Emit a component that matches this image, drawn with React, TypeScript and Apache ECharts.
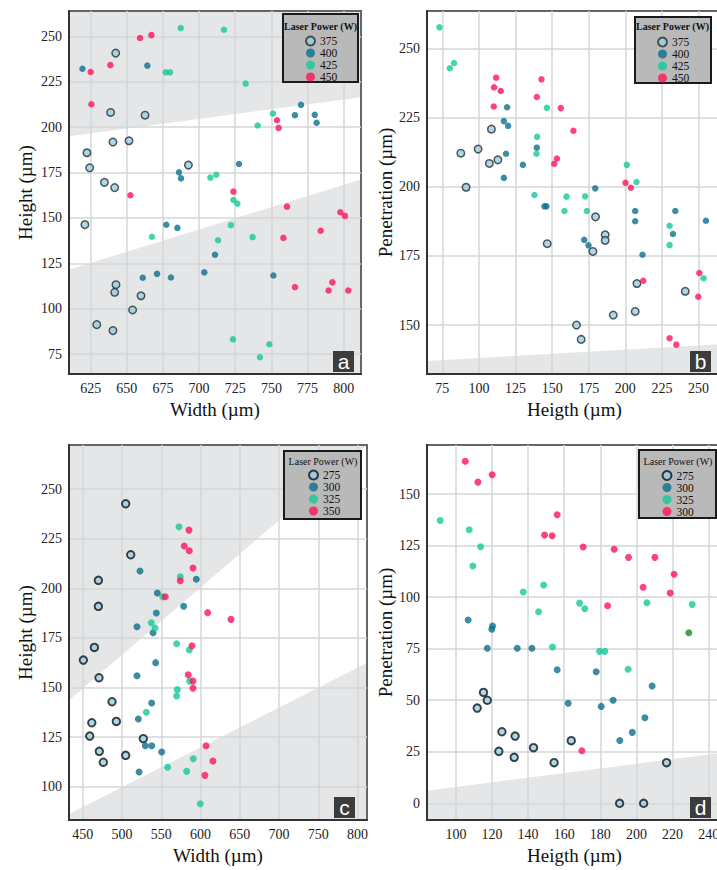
import React, { useEffect, useRef } from "react";
import * as echarts from "echarts";

// ---------- data ----------
// Panel a : Width (x) vs Height (y), laser power 375/400/425/450 W
const aLabels = ["375", "400", "425", "450"];
const a375 = [[642.3,240.8],[638.8,208.1],[662.6,206.6],[640.4,191.8],[651.5,192.5],[622.4,185.9],[624.3,177.6],[692.6,179.1],[634.5,169.6],[641.6,166.7],[621,146.3],[642.5,113.2],[641.6,109],[659.8,107.1],[654,99.3],[629.2,91.2],[640.4,87.9]];
const a400 = [[619.3,232.2],[664.2,233.9],[770.5,212.3],[766.3,206.6],[780,206.8],[781.3,202.4],[727.6,179.7],[686.1,175.1],[687.5,171.8],[677.3,146.2],[685,144.5],[711,129.7],[703.6,120],[670.9,119.2],[661,117],[680.5,117.2],[751.4,118.3]];
const a425 = [[687.3,254.6],[717.2,253.7],[676.9,230.2],[679.9,230.2],[732.2,224],[751.1,207.5],[740.5,200.9],[707.8,172.2],[711.9,173.8],[723.7,159.9],[726.5,157.9],[667.4,139.6],[713.1,137.7],[722,146],[737,139.4],[723.4,83.1],[748.6,80.4],[742.1,73.2]];
const a450 = [[659.1,249.1],[667,250.7],[638.6,234.2],[625,230.4],[625.5,212.6],[753.9,203.8],[755,199.6],[723.7,164.5],[652.5,162.5],[760.8,156.2],[797.7,153.1],[800.9,151.1],[784.1,142.9],[758.3,139],[766.3,111.9],[792.2,114.5],[789.6,110],[803.2,110]];
const aXTicks = [625, 650, 675, 700, 725, 750, 775, 800];
const aYTicks = [75, 100, 125, 150, 175, 200, 225, 250];
const aXRange = [610, 812];
const aYRange = [64, 264];
const aUpperEdge = [[610, 195], [812, 216.5]];
const aLowerEdge = [[610, 121.5], [812, 171.2]];

// Panel b : Heigth (x) vs Penetration (y)
const bLabels = ["375", "400", "425", "450"];
const b375 = [[87.6,212.1],[91.2,199.8],[99.4,213.6],[108.5,220.8],[107.1,208.4],[112.9,209.7],[179.6,189.1],[146.6,179.4],[186.2,182.6],[186.2,180.6],[177.8,176.6],[207.9,165],[240.9,162.2],[191.7,153.6],[206.7,154.9],[166.6,150],[169.8,144.8]];
const b400 = [[119.2,228.7],[117,223.7],[119.9,222],[118.5,211.9],[117,203.2],[130,207.9],[139.5,214.1],[179.4,199.4],[144.7,192.9],[146.1,192.9],[206.7,191.2],[234.1,191.2],[255,187.7],[206.7,187.5],[232.5,182.9],[171.9,180.8],[174.8,178.8],[211.7,175.4]];
const b425 = [[73,257.6],[80.1,242.8],[83,244.7],[146.4,228.5],[139.7,218],[139.3,211.9],[201,207.9],[207.6,201.7],[137.9,197],[159.8,196.4],[172.5,196.5],[158.4,191.2],[173.7,191.2],[230.2,185.9],[230.2,178.9],[253.4,166.9]];
const b450 = [[111.7,239.4],[110.3,235.9],[114.9,234.6],[110.1,229],[142.7,238.8],[139.5,232.4],[155.9,228.4],[164.5,220.2],[153.2,210.2],[151.4,208.3],[200.1,201.4],[203.8,199.6],[212.2,166],[250.5,168.8],[249.8,160.2],[230.2,145.2],[234.8,142.9]];
const bXTicks = [75, 100, 125, 150, 175, 200, 225, 250];
const bYTicks = [150, 175, 200, 225, 250];
const bXRange = [64.5, 266];
const bYRange = [132.3, 263.5];
const bLowerEdge = [[64.5, 137], [266, 143.1]];

// Panel c : Width (x) vs Height (y), laser power 275/300/325/350 W
const cLabels = ["275", "300", "325", "350"];
const c275 = [[504.7,242.6],[511.1,216.9],[469.9,204],[469.9,190.9],[464.8,170.2],[450.8,163.8],[470.7,154.9],[487.3,142.8],[492.8,132.9],[461.5,132.2],[458.9,125.5],[527.1,124.2],[471.1,117.8],[504.7,115.8],[476.2,112.3]];
const c300 = [[522.9,208.7],[545,197.6],[594.6,204.5],[578.5,190.9],[543.7,187.5],[519.1,180.6],[539.5,177.6],[542.9,162.5],[519.1,155.9],[537.8,142.2],[520.8,134.1],[529.7,120.6],[537.8,120.6],[550.5,117.5],[521.7,107.4]];
const c325 = [[572.6,231],[574.2,205.8],[551.8,195.7],[537.3,182.6],[542,180],[569.6,172],[585.7,168.9],[586.2,153.2],[570.4,148.9],[569.6,145.7],[531,137.5],[590.8,114.1],[558.2,109.8],[582.3,107.7],[599.7,91.4]];
const c350 = [[585.3,229.3],[579.3,221.3],[585.7,218.9],[590.4,210.2],[574.2,203.8],[555.1,195.7],[609.1,187.7],[638.8,184.3],[589.1,171],[584.4,156.4],[590.4,153.2],[590.4,149.6],[607,120.6],[615.8,112.9],[605.6,105.7]];
const cXTicks = [450, 500, 550, 600, 650, 700, 750, 800];
const cYTicks = [100, 125, 150, 175, 200, 225, 250];
const cXRange = [432.5, 812];
const cYRange = [83.2, 272.2];
const cUpperEdge = [[432.5, 143.5], [812, 272.2]];
const cLowerEdge = [[432.5, 86.2], [812, 162.3]];

// Panel d : Heigth (x) vs Penetration (y)
const dLabels = ["275", "300", "325", "300"];
const d275 = [[115.3,53.8],[117.4,50],[111.8,46.2],[125.5,34.7],[132.8,32.6],[123.8,25.2],[132.3,22.3],[143,27],[163.9,30.4],[154.4,19.7],[216.7,19.7],[190.7,0],[204,0]];
const d300 = [[106.8,88.9],[120.3,86],[119.9,84.4],[117.4,75.2],[134,75.2],[142.1,75.2],[156.1,64.8],[177.7,63.8],[162.2,48.5],[180.5,47],[187.1,50],[208.7,56.9],[204.7,41.5],[197.7,34.4],[190.8,30.5]];
const d325 = [[91.3,137.2],[107.4,132.7],[113.7,124.4],[109.4,115.1],[137.3,102.5],[148.6,105.9],[145.8,92.9],[168.5,97.1],[171.4,94.4],[205.8,97.3],[230.9,96.5],[153.5,75.8],[179.6,73.7],[182.5,73.7],[195.4,65]];
const d350 = [[105.2,165.9],[112.2,155.8],[120.1,159.4],[156.1,140],[149.1,130.1],[153.3,129.8],[170.5,124.3],[187.7,123.2],[195.6,119.3],[210.2,119.3],[220.9,111.1],[203.7,104.8],[218.7,102],[184,95.8],[169.8,25.5]];
const dExtra = [[229, 82.7]];
const dXTicks = [100, 120, 140, 160, 180, 200, 220, 240];
const dYTicks = [0, 25, 50, 75, 100, 125, 150];
const dXRange = [84, 247.4];
const dYRange = [-8.1, 173.8];
const dLowerEdge = [[84, 6.1], [247.4, 24.5]];

// ---------- styles ----------
const FONT = "'Liberation Serif', 'Times New Roman', serif";
const SHADE = "#e5e6e7";
const LIGHT = "#92cfe8";
const TEAL = "#0b6f8d";
const GREEN = "#14c99a";
const RED = "#fd1457";

const grids = [
  { left: 69, top: 11, width: 292, height: 363 },
  { left: 427, top: 11, width: 295, height: 363 },
  { left: 69, top: 445, width: 298, height: 375 },
  { left: 427, top: 445, width: 295, height: 375 },
];

function xAxis(gi: number, range: number[], ticks: number[], name: string) {
  return {
    type: "value", gridIndex: gi, min: range[0], max: range[1], name,
    nameLocation: "middle", nameGap: 26,
    nameTextStyle: { fontFamily: FONT, fontSize: 19, color: "#111" },
    axisLine: { show: true, onZero: false, lineStyle: { color: "#333", width: 2 } },
    axisTick: { show: false, customValues: ticks },
    axisLabel: { customValues: ticks, fontFamily: FONT, fontSize: 14, color: "#222", margin: 7 },
    splitLine: { show: true, lineStyle: { color: "#d4d6d8", width: 1.5 } },
  };
}
function yAxis(gi: number, range: number[], ticks: number[], name: string, gap: number) {
  return {
    type: "value", gridIndex: gi, min: range[0], max: range[1], name,
    nameLocation: "middle", nameGap: gap,
    nameTextStyle: { fontFamily: FONT, fontSize: 19, color: "#111" },
    axisLine: { show: true, onZero: false, lineStyle: { color: "#333", width: 2 } },
    axisTick: { show: false, customValues: ticks },
    axisLabel: { customValues: ticks, fontFamily: FONT, fontSize: 14, color: "#222", margin: 7 },
    splitLine: { show: true, lineStyle: { color: "#d4d6d8", width: 1.5 } },
  };
}

function shadeSeries(gi: number, polys: number[][][]) {
  return {
    type: "custom", xAxisIndex: gi, yAxisIndex: gi, z: -1, silent: true,
    data: polys.map((p) => p[0]),
    renderItem: (params: any, api: any) => {
      const poly = polys[params.dataIndex];
      return {
        type: "polygon",
        shape: { points: poly.map((pt) => api.coord(pt)) },
        style: { fill: SHADE },
      };
    },
  };
}

function scatter(gi: number, name: string, data: number[][], kind: string, big: boolean) {
  const style: any =
    kind === "light"
      ? { color: LIGHT, borderColor: big ? "#111" : "#2e2e2e", borderWidth: big ? 1.9 : 1.5 }
      : { color: kind === "teal" ? TEAL : kind === "green" ? GREEN : kind === "red" ? RED : "#1e8a22" };
  return {
    type: "scatter", name, xAxisIndex: gi, yAxisIndex: gi, data,
    symbolSize: kind === "light" ? 7.5 : big ? 7 : 6.5,
    itemStyle: style, z: kind === "light" ? 3 : 4,
  };
}

function legend(gi: number, labels: string[], left: number, top: number) {
  return {
    orient: "vertical", left, top, padding: 0, itemGap: 0, itemWidth: 9, itemHeight: 9,
    icon: "circle", selectedMode: false, z: 20,
    data: labels.map((_, i) => `p${gi}_${i}`),
    formatter: (n: string) => labels[Number(n.split("_")[1])],
    textStyle: { fontFamily: FONT, fontSize: 11.5, color: "#111", lineHeight: 11.5 },
  };
}

function legendBox(x: number, y: number, w: number, h: number, cx: number, ty: number, bold: boolean) {
  return [
    { type: "rect", z: 10, shape: { x, y, width: w, height: h }, style: { fill: "#b9b9b9", stroke: "#1a1a1a", lineWidth: 2 } },
    {
      type: "text", z: 21, x: cx, y: ty,
      style: { text: "Laser Power (W)", fill: "#111", align: "center", verticalAlign: "middle", fontFamily: FONT, fontSize: 10, fontWeight: bold ? "bold" : "normal" },
    },
  ];
}
function cornerTag(x: number, y: number, t: string) {
  return [
    { type: "rect", z: 10, shape: { x, y, width: 21, height: 21 }, style: { fill: "#3c3c3c" } },
    {
      type: "text", z: 11, x: x + 10.5, y: y + 10,
      style: { text: t, fill: "#fff", align: "center", verticalAlign: "middle", fontFamily: "'Liberation Sans', Arial, sans-serif", fontSize: 21 },
    },
  ];
}

function rectBelow(xr: number[], yr: number[], edge: number[][]) {
  return [edge[0], edge[1], [xr[1], yr[0]], [xr[0], yr[0]]];
}
function rectAbove(xr: number[], yr: number[], edge: number[][]) {
  return [edge[0], edge[1], [xr[1], yr[1]], [xr[0], yr[1]]];
}

export default function App() {
  const ref = useRef<HTMLDivElement>(null);
  useEffect(() => {
    if (!ref.current) return;
    const chart = echarts.init(ref.current, undefined, { renderer: "svg" });
    const sets = [
      [a375, a400, a425, a450],
      [b375, b400, b425, b450],
      [c275, c300, c325, c350],
      [d275, d300, d325, d350],
    ];
    const kinds = ["light", "teal", "green", "red"];
    const series: any[] = [
      shadeSeries(0, [rectAbove(aXRange, aYRange, aUpperEdge), rectBelow(aXRange, aYRange, aLowerEdge)]),
      shadeSeries(1, [rectBelow(bXRange, bYRange, bLowerEdge)]),
      shadeSeries(2, [[cUpperEdge[0], cUpperEdge[1], [cXRange[0], cYRange[1]]], rectBelow(cXRange, cYRange, cLowerEdge)]),
      shadeSeries(3, [rectBelow(dXRange, dYRange, dLowerEdge)]),
    ];
    sets.forEach((s, gi) => {
      s.forEach((data, i) => series.push(scatter(gi, `p${gi}_${i}`, data, kinds[i], gi >= 2)));
    });
    series.push(scatter(3, "extra", dExtra, "dark", true));

    chart.setOption({
      animation: false,
      backgroundColor: "#fff",
      grid: grids.map((g) => ({ ...g, show: true, borderColor: "#666", borderWidth: 2, backgroundColor: "transparent" })),
      xAxis: [
        xAxis(0, aXRange, aXTicks, "Width (µm)"),
        xAxis(1, bXRange, bXTicks, "Heigth (µm)"),
        xAxis(2, cXRange, cXTicks, "Width (µm)"),
        xAxis(3, dXRange, dXTicks, "Heigth (µm)"),
      ],
      yAxis: [
        yAxis(0, aYRange, aYTicks, "Height (µm)", 34),
        yAxis(1, bYRange, bYTicks, "Penetration (µm)", 30),
        yAxis(2, cYRange, cYTicks, "Height (µm)", 34),
        yAxis(3, dYRange, dYTicks, "Penetration (µm)", 30),
      ],
      legend: [
        legend(0, aLabels, 305, 35),
        legend(1, bLabels, 657, 36),
        legend(2, cLabels, 308, 469),
        legend(3, dLabels, 661.5, 469.5),
      ],
      graphic: [
        ...legendBox(283, 14, 75, 68, 320.5, 26, true),
        ...legendBox(635, 17, 76, 66, 672.5, 26, true),
        ...legendBox(284, 451, 77, 68, 323, 461.5, false),
        ...legendBox(639, 450, 77, 68, 678, 461, false),
        ...cornerTag(333, 351, "a"),
        ...cornerTag(690, 351, "b"),
        ...cornerTag(334, 797, "c"),
        ...cornerTag(690, 797, "d"),
      ],
      series,
    });
    return () => chart.dispose();
  }, []);
  return (
    <div style={{ position: "fixed", left: 0, top: 0, width: 717, height: 870, overflow: "hidden", background: "#fff" }}>
      <div ref={ref} style={{ width: 740, height: 870 }} />
    </div>
  );
}
